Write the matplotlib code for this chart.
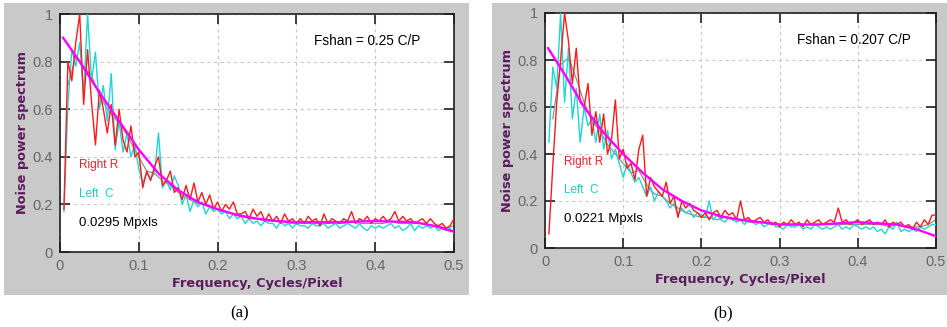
import numpy as np
import matplotlib
matplotlib.use('Agg')
import matplotlib.pyplot as plt
from matplotlib.patches import Rectangle
from matplotlib.ticker import FuncFormatter

# frequency grids (cycles/pixel)
freq = np.round(np.arange(1, 101) * 0.005, 3)
freq_avg = np.round(np.arange(1, 51) * 0.01, 2)
freq_fit = [0.004, 0.025, 0.05, 0.075, 0.1, 0.125, 0.15, 0.175, 0.2, 0.225, 0.25,
            0.275, 0.3, 0.35, 0.4, 0.45, 0.475, 0.5]

# panel (a)
red_a = [0.18, 0.80, 0.72, 0.88, 1.00, 0.62, 0.85, 0.63, 0.45, 0.68,
         0.60, 0.50, 0.62, 0.45, 0.60, 0.47, 0.42, 0.53, 0.40, 0.42,
         0.27, 0.34, 0.30, 0.36, 0.40, 0.28, 0.30, 0.34, 0.25, 0.27,
         0.22, 0.28, 0.22, 0.29, 0.21, 0.25, 0.20, 0.24, 0.18, 0.21,
         0.17, 0.20, 0.18, 0.21, 0.16, 0.16, 0.17, 0.14, 0.18, 0.15,
         0.17, 0.13, 0.16, 0.13, 0.15, 0.12, 0.16, 0.13, 0.14, 0.12,
         0.14, 0.12, 0.15, 0.13, 0.14, 0.11, 0.16, 0.12, 0.14, 0.13,
         0.12, 0.14, 0.13, 0.17, 0.12, 0.14, 0.13, 0.15, 0.12, 0.14,
         0.13, 0.15, 0.13, 0.14, 0.17, 0.13, 0.15, 0.13, 0.14, 0.12,
         0.13, 0.14, 0.12, 0.14, 0.12, 0.11, 0.12, 0.10, 0.11, 0.14]
cyan_a = [0.17, 0.62, 0.85, 0.78, 0.88, 0.66, 1.00, 0.72, 0.84, 0.60,
          0.70, 0.55, 0.75, 0.43, 0.55, 0.42, 0.50, 0.40, 0.45, 0.35,
          0.29, 0.33, 0.31, 0.33, 0.50, 0.27, 0.30, 0.26, 0.32, 0.28,
          0.20, 0.24, 0.17, 0.22, 0.19, 0.21, 0.16, 0.19, 0.17, 0.18,
          0.16, 0.17, 0.14, 0.16, 0.14, 0.15, 0.12, 0.14, 0.12, 0.13,
          0.11, 0.13, 0.12, 0.12, 0.10, 0.13, 0.11, 0.12, 0.10, 0.12,
          0.11, 0.11, 0.10, 0.12, 0.11, 0.11, 0.12, 0.10, 0.11, 0.12,
          0.10, 0.11, 0.12, 0.11, 0.10, 0.12, 0.10, 0.09, 0.11, 0.10,
          0.11, 0.10, 0.11, 0.12, 0.10, 0.11, 0.09, 0.10, 0.12, 0.09,
          0.11, 0.10, 0.11, 0.10, 0.11, 0.09, 0.10, 0.09, 0.10, 0.08]
gray_a = [0.70, 0.82, 0.78, 0.74, 0.66, 0.60, 0.56, 0.52, 0.46, 0.40,
          0.34, 0.33, 0.30, 0.28, 0.25, 0.23, 0.21, 0.20, 0.19, 0.18,
          0.17, 0.16, 0.15, 0.14, 0.14, 0.13, 0.13, 0.13, 0.12, 0.12,
          0.12, 0.12, 0.12, 0.12, 0.12, 0.12, 0.13, 0.12, 0.12, 0.12,
          0.12, 0.13, 0.12, 0.12, 0.12, 0.12, 0.11, 0.11, 0.10, 0.11]
fit_a = [0.90, 0.80, 0.67, 0.55, 0.43, 0.33, 0.26, 0.21, 0.18, 0.155, 0.14,
         0.13, 0.125, 0.125, 0.13, 0.125, 0.11, 0.085]

# panel (b)
red_b = [0.06, 0.35, 0.62, 0.80, 1.00, 0.88, 0.70, 0.85, 0.62, 0.60,
         0.70, 0.48, 0.58, 0.45, 0.57, 0.40, 0.46, 0.63, 0.38, 0.42,
         0.34, 0.36, 0.29, 0.42, 0.48, 0.22, 0.30, 0.26, 0.24, 0.22,
         0.28, 0.19, 0.22, 0.13, 0.20, 0.17, 0.19, 0.16, 0.15, 0.13,
         0.15, 0.12, 0.15, 0.16, 0.13, 0.16, 0.14, 0.15, 0.12, 0.20,
         0.12, 0.13, 0.11, 0.12, 0.13, 0.11, 0.12, 0.10, 0.11, 0.09,
         0.11, 0.10, 0.12, 0.10, 0.11, 0.09, 0.12, 0.10, 0.11, 0.12,
         0.10, 0.11, 0.12, 0.11, 0.17, 0.11, 0.12, 0.10, 0.11, 0.12,
         0.10, 0.11, 0.12, 0.10, 0.11, 0.10, 0.12, 0.09, 0.11, 0.10,
         0.11, 0.09, 0.10, 0.08, 0.11, 0.09, 0.12, 0.10, 0.14, 0.14]
cyan_b = [0.45, 0.77, 0.68, 1.00, 0.62, 0.85, 0.55, 0.68, 0.45, 0.60,
          0.52, 0.55, 0.45, 0.57, 0.42, 0.50, 0.38, 0.42, 0.36, 0.30,
          0.36, 0.32, 0.28, 0.30, 0.26, 0.22, 0.26, 0.20, 0.24, 0.22,
          0.20, 0.17, 0.19, 0.14, 0.17, 0.15, 0.16, 0.13, 0.15, 0.14,
          0.13, 0.20, 0.12, 0.14, 0.12, 0.11, 0.13, 0.12, 0.11, 0.12,
          0.10, 0.12, 0.11, 0.10, 0.11, 0.09, 0.10, 0.11, 0.09, 0.09,
          0.08, 0.10, 0.09, 0.09, 0.10, 0.08, 0.09, 0.08, 0.10, 0.09,
          0.08, 0.09, 0.08, 0.09, 0.10, 0.08, 0.09, 0.08, 0.10, 0.09,
          0.08, 0.09, 0.08, 0.09, 0.07, 0.08, 0.06, 0.09, 0.08, 0.11,
          0.07, 0.08, 0.07, 0.08, 0.07, 0.09, 0.08, 0.09, 0.10, 0.10]
gray_b = [0.55, 0.78, 0.81, 0.72, 0.62, 0.54, 0.50, 0.44, 0.40, 0.36,
          0.32, 0.33, 0.27, 0.23, 0.22, 0.19, 0.17, 0.15, 0.14, 0.13,
          0.13, 0.12, 0.13, 0.12, 0.12, 0.11, 0.11, 0.11, 0.10, 0.10,
          0.10, 0.10, 0.10, 0.10, 0.10, 0.10, 0.10, 0.10, 0.10, 0.10,
          0.10, 0.10, 0.10, 0.09, 0.10, 0.09, 0.09, 0.09, 0.10, 0.12]
fit_b = [0.85, 0.74, 0.60, 0.49, 0.40, 0.32, 0.25, 0.20, 0.16, 0.135, 0.12,
         0.11, 0.10, 0.10, 0.11, 0.10, 0.08, 0.05]

panels = [
    dict(red=red_a, cyan=cyan_a, gray=gray_a, fit=fit_a, fshan='Fshan = 0.25 C/P',
         mpx='0.0295 Mpxls', cap='(a)', bg=(4, 469), ax=(60, 14, 454, 252)),
    dict(red=red_b, cyan=cyan_b, gray=gray_b, fit=fit_b, fshan='Fshan = 0.207 C/P',
         mpx='0.0221 Mpxls', cap='(b)', bg=(492, 947), ax=(545, 13, 936, 248)),
]

W, H = 947, 327
fig = plt.figure(figsize=(W / 100, H / 100), dpi=100)
fig.patch.set_facecolor('white')

purple = '#5a1a5c'
tickgray = '#666666'

def fmt(v, pos):
    return '%g' % round(v, 2)

for p in panels:
    x0, x1 = p['bg']
    fig.patches.append(Rectangle((x0 / W, 1 - 295 / H), (x1 - x0) / W, 292 / H,
                                 transform=fig.transFigure, facecolor='#c9c9c9',
                                 edgecolor='none', zorder=-5))
    l, t, r, b = p['ax']
    ax = fig.add_axes([l / W, 1 - b / H, (r - l) / W, (b - t) / H])
    ax.set_facecolor('white')
    ax.plot(freq_avg, p['gray'], color='#909090', lw=0.9, zorder=2)
    ax.plot(freq, p['cyan'], color='#22d4d4', lw=1.0, zorder=3)
    ax.plot(freq, p['red'], color='#ff1a1a', lw=1.0, zorder=4)
    ax.plot(freq_fit, p['fit'], color='#ff00ff', lw=1.7, zorder=5)
    ax.set_xlim(0, 0.5)
    ax.set_ylim(0, 1)
    ax.set_xticks([0, 0.1, 0.2, 0.3, 0.4, 0.5])
    ax.set_yticks([0, 0.2, 0.4, 0.6, 0.8, 1])
    ax.xaxis.set_major_formatter(FuncFormatter(fmt))
    ax.yaxis.set_major_formatter(FuncFormatter(fmt))
    ax.grid(True, ls=(0, (3, 3)), color='#c8c8c8', lw=0.8)
    ax.tick_params(direction='in', length=7, width=1.2, colors='#202020',
                   top=True, right=True, labelcolor=tickgray, labelsize=10.5, pad=5)
    for lab in ax.get_xticklabels() + ax.get_yticklabels():
        lab.set_fontfamily('Liberation Sans')
    for s in ax.spines.values():
        s.set_linewidth(1.2)
        s.set_color('#202020')
    ax.set_xlabel('Frequency, Cycles/Pixel', fontsize=9.3, fontweight='bold',
                  color=purple, labelpad=3)
    ax.set_ylabel('Noise power spectrum', fontsize=9.3, fontweight='bold',
                  color=purple, labelpad=3)
    ax.text(0.322, 0.885, p['fshan'], fontsize=9.8, color='black',
            family='Liberation Sans', va='center')
    ax.text(0.024, 0.365, 'Right R', fontsize=8.5, color='#e8202a',
            family='Liberation Sans', va='center')
    ax.text(0.024, 0.245, 'Left  C', fontsize=8.5, color='#20c8d0',
            family='Liberation Sans', va='center')
    ax.text(0.024, 0.122, p['mpx'], fontsize=9.5, color='black',
            family='Liberation Sans', va='center')
    fig.text(((l + r) / 2 - 17) / W, 1 - 313 / H, p['cap'], fontsize=12,
             family='Liberation Serif', ha='center', va='center')

fig.savefig('out.png', dpi=100)
